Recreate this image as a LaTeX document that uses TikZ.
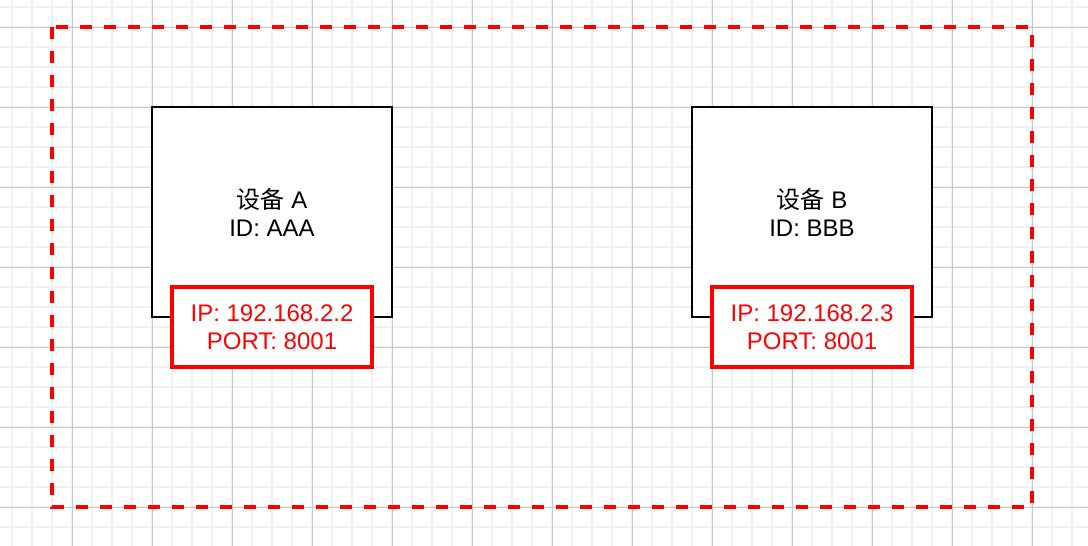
\documentclass[tikz,border=0pt]{standalone}
\usepackage{fontspec}
\setmainfont{Liberation Sans}
\newfontfamily\cjk{Noto Sans CJK SC}
\definecolor{gridminor}{HTML}{F0F0F0}
\definecolor{gridmajor}{HTML}{C8C8C8}
\definecolor{netred}{HTML}{FF0000}
\begin{document}
\begin{tikzpicture}[x=1pt,y=-1pt,
  device/.style={draw=black,line width=1.8pt,fill=white,minimum width=240pt,minimum height=210pt,
    align=center,inner sep=0pt,font=\fontsize{24}{28}\selectfont},
  addr/.style={draw=netred,line width=3.5pt,fill=white,minimum width=200pt,minimum height=80pt,
    align=center,inner sep=0pt,text=netred,font=\fontsize{24}{28}\selectfont},
  zone/.style={draw=netred,line width=3.5pt,dash pattern=on 12pt off 12pt}]
  % canvas
  \fill[white] (0,0) rectangle (1088,546);
  \useasboundingbox (0,0) rectangle (1088,546);
  % background grid: fine lines every 20, heavier lines every 80
  \foreach \x in {12,32,...,1072} \draw[gridminor,line width=2pt] (\x,0) -- (\x,546);
  \foreach \y in {7,27,...,527} \draw[gridminor,line width=2pt] (0,\y) -- (1088,\y);
  \foreach \x in {72,152,...,1032} \draw[gridmajor,line width=1pt] (\x,0) -- (\x,546);
  \foreach \y in {27,107,...,507} \draw[gridmajor,line width=1pt] (0,\y) -- (1088,\y);
  % network zone
  \draw[zone] (52,27) rectangle (1032,507);
  % devices
  \node[device] (devA) at (272,212) {{\cjk 设备} A\\ID: AAA};
  \node[device] (devB) at (812,212) {{\cjk 设备} B\\ID: BBB};
  % addresses
  \node[addr] (ipA) at (272,327) {IP: 192.168.2.2\\PORT: 8001};
  \node[addr] (ipB) at (812,327) {IP: 192.168.2.3\\PORT: 8001};
\end{tikzpicture}
\end{document}
